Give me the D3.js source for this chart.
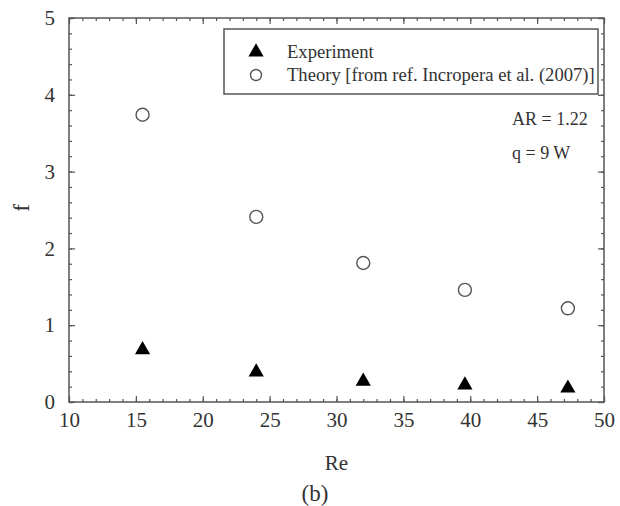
<!DOCTYPE html>
<html>
<head>
<meta charset="utf-8">
<script src="https://cdn.jsdelivr.net/npm/d3@7"></script>
<style>
  body { margin: 0; background: #fff; }
  svg text { font-family: "Liberation Serif", "DejaVu Serif", serif; fill: #333; }
  .axis path, .axis line { stroke: #555; }
</style>
</head>
<body>
<div class="chart"></div>
<script>
// values
const reValues = [15.5, 24, 32, 39.6, 47.3];
const experiment = [0.68, 0.39, 0.27, 0.22, 0.18];
const theory = [3.74, 2.41, 1.81, 1.46, 1.22];
const xTicks = [10, 15, 20, 25, 30, 35, 40, 45, 50];
const yTicks = [0, 1, 2, 3, 4, 5];
const legendLabels = ['Experiment', 'Theory [from ref. Incropera et al. (2007)]'];
const notes = ['AR = 1.22', 'q = 9 W'];

const width = 620, height = 506;
const margin = {top: 18, right: 16, bottom: 104, left: 69};

let svg = d3.select('.chart').append('svg')
  .attr('width', width)
  .attr('height', height)

let x = d3.scaleLinear().domain([10, 50]).range([margin.left, width - margin.right]);
let y = d3.scaleLinear().domain([0, 5]).range([height - margin.bottom, margin.top]);

const x0 = x.range()[0], x1 = x.range()[1];
const y0 = y.range()[0], y1 = y.range()[1];

// minor ticks on all four sides
const xMinor = d3.range(10, 50.01, 1);
const yMinor = d3.range(0, 5.01, 0.2);

const addAxis = (axis, tx, ty, labels) => {
  let g = svg.append('g')
  .attr('class', 'axis')
  .attr('transform', `translate(${tx},${ty})`)
  .call(axis)
  g.attr('font-size', null).attr('font-family', null);
  g.select('.domain').remove();
  g.selectAll('line').attr('stroke-width', 1.2);
  if (!labels) g.selectAll('text').remove();
  return g;
}

addAxis(d3.axisBottom(x).tickValues(xMinor).tickSize(-3).tickFormat(''), 0, y0);
addAxis(d3.axisTop(x).tickValues(xMinor).tickSize(-3).tickFormat(''), 0, y1);
addAxis(d3.axisLeft(y).tickValues(yMinor).tickSize(-3).tickFormat(''), x0, 0);
addAxis(d3.axisRight(y).tickValues(yMinor).tickSize(-3).tickFormat(''), x1, 0);

let gx = addAxis(d3.axisBottom(x).tickValues(xTicks).tickSize(-6).tickPadding(10).tickFormat(d3.format('d')), 0, y0, true);
gx.selectAll('text').style('font-size', '21px');
addAxis(d3.axisTop(x).tickValues(xTicks).tickSize(-6).tickFormat(''), 0, y1);

let gy = addAxis(d3.axisLeft(y).tickValues(yTicks).tickSize(-6).tickPadding(14).tickFormat(d3.format('d')), x0, 0, true);
gy.selectAll('text').style('font-size', '21px');
addAxis(d3.axisRight(y).tickValues(yTicks).tickSize(-6).tickFormat(''), x1, 0);

// frame
svg.append('rect')
  .attr('x', x0).attr('y', y1)
  .attr('width', x1 - x0).attr('height', y0 - y1)
  .attr('fill', 'none')
  .attr('stroke', '#555')
  .attr('stroke-width', 1.5)

// axis titles
svg.append('text')
  .attr('x', (x0 + x1) / 2).attr('y', 470)
  .attr('text-anchor', 'middle')
  .style('font-size', '21px')
  .text('Re')

svg.append('text')
  .attr('transform', 'translate(29,208) rotate(-90)')
  .attr('text-anchor', 'middle')
  .style('font-size', '23px')
  .text('f')

svg.append('text')
  .attr('x', 315).attr('y', 501)
  .attr('text-anchor', 'middle')
  .style('font-size', '23px')
  .text('(b)')

const tri = d3.symbol().type(d3.symbolTriangle).size(100);

// theory circles
svg.append('g')
  .selectAll('circle')
  .data(reValues)
  .enter()
  .append('circle')
  .attr('cx', d => x(d))
  .attr('cy', (d, i) => y(theory[i]))
  .attr('r', 6.5)
  .attr('fill', 'none')
  .attr('stroke', '#555')
  .attr('stroke-width', 1.4)

// experiment triangles
svg.append('g')
  .selectAll('path')
  .data(reValues)
  .enter()
  .append('path')
  .attr('d', tri)
  .attr('transform', (d, i) => `translate(${x(d)},${y(experiment[i])})`)
  .attr('fill', '#000')

// legend
let legend = svg.append('g')
legend.append('rect')
  .attr('x', 224).attr('y', 29)
  .attr('width', 374).attr('height', 65)
  .attr('fill', '#fff')
  .attr('stroke', '#555')
  .attr('stroke-width', 1.5)

legend.append('path')
  .attr('d', tri)
  .attr('transform', 'translate(256,52)')
  .attr('fill', '#000')

legend.append('circle')
  .attr('cx', 256).attr('cy', 75)
  .attr('r', 5.5)
  .attr('fill', 'none')
  .attr('stroke', '#555')
  .attr('stroke-width', 1.4)

legend.selectAll('.legend-label')
  .data(legendLabels)
  .enter()
  .append('text')
  .attr('class', 'legend-label')
  .attr('x', 287)
  .attr('y', (d, i) => 58 + i * 23)
  .style('font-size', '18.6px')
  .text(d => d)

svg.selectAll('.note')
  .data(notes)
  .enter()
  .append('text')
  .attr('class', 'note')
  .attr('x', 512)
  .attr('y', (d, i) => 125 + i * 34)
  .style('font-size', '18px')
  .text(d => d)
</script>
</body>
</html>
